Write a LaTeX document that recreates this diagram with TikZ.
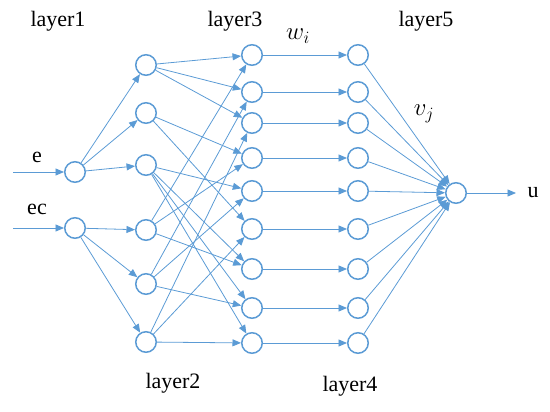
\documentclass[tikz,border=0pt]{standalone}
\usepackage{fontspec}
\setmainfont{Liberation Serif}
\newfontfamily\labelfont{Liberation Serif}
\usetikzlibrary{arrows.meta}
\definecolor{nnblue}{RGB}{91,155,213}
\begin{document}
\begin{tikzpicture}[x=1pt,y=-1pt,
  neuron/.style={circle,draw=nnblue,line width=1.5pt,minimum size=20.5pt,inner sep=0pt,fill=white},
  conn/.style={draw=nnblue,line width=0.8pt,-{Triangle[length=8.5pt,width=7pt]}},
  lbl/.style={font=\labelfont\fontsize{22}{26}\selectfont,text=black,inner sep=0pt},
  mlbl/.style={font=\fontsize{25}{30}\selectfont,text=black,inner sep=0pt}]
\useasboundingbox (0,0) rectangle (550,412);
% layer 1
\node[neuron] (E1) at (75,172) {};
\node[neuron] (E2) at (75,228) {};
% layer 2
\foreach \i/\y in {1/65,2/113,3/165,4/230,5/284,6/342}
  \node[neuron] (A\i) at (146,\y) {};
% layer 3 and layer 4
\foreach \i/\y in {1/55,2/92,3/123,4/158,5/191,6/229,7/269,8/308,9/343}{
  \node[neuron] (B\i) at (252,\y) {};
  \node[neuron] (C\i) at (358,\y) {};
}
% layer 5
\node[neuron] (O) at (456,193) {};
\coordinate (in1) at (13,172);
\coordinate (in2) at (13,228);
\coordinate (uout) at (516,193);
% labels
\node[lbl] (t1) at (58,21) {layer1};
\node[lbl] (t3) at (235,21) {layer3};
\node[lbl] (t5) at (426,21) {layer5};
\node[lbl] (t2) at (173,383) {layer2};
\node[lbl] (t4) at (350,386) {layer4};
\node[lbl] (le) at (37,157) {e};
\node[lbl] (lec) at (37,209) {ec};
\node[lbl] (lu) at (533,193) {u};
\node[mlbl] (lw) at (298,36) {$w_i$};
\node[mlbl] (lv) at (424,114) {$v_j$};
% connections
\draw[conn] (in1) -- (E1);
\draw[conn] (in2) -- (E2);
\foreach \j in {1,2,3} \draw[conn] (E1) -- (A\j);
\foreach \j in {4,5,6} \draw[conn] (E2) -- (A\j);
\foreach \a/\b in {1/1,1/2,1/3,2/4,2/6,3/5,3/7,3/8,3/9,4/1,4/4,4/7,5/2,5/5,5/8,6/3,6/6,6/9}
  \draw[conn] (A\a) -- (B\b);
\foreach \i in {1,...,9}{
  \draw[conn] (B\i) -- (C\i);
  \draw[conn] (C\i) -- (O);
}
\draw[conn] (O) -- (uout);
\end{tikzpicture}
\end{document}
